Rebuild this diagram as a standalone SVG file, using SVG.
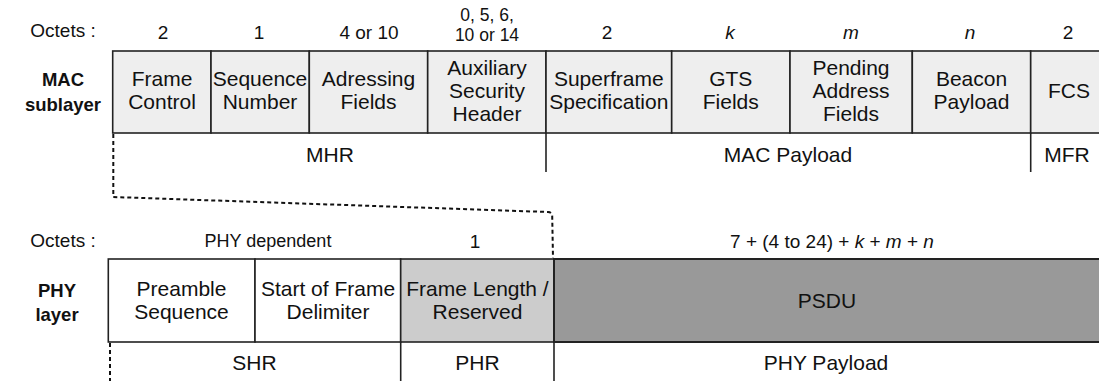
<svg xmlns="http://www.w3.org/2000/svg" width="1099" height="381" viewBox="0 0 1099 381">
<style>
text{font-family:"Liberation Sans",Arial,sans-serif;fill:#111;text-anchor:middle}
.lbl{font-size:19px}
.sm{font-size:17.5px}
.ph{font-size:18px}
.box{font-size:21px}
.bold{font-size:18.5px;font-weight:bold}
.mac{fill:#eeeeee;stroke:#222;stroke-width:1.6}
.phy{fill:#ffffff;stroke:#222;stroke-width:1.6}
.phr{fill:#cccccc;stroke:#222;stroke-width:1.6}
.psdu{fill:#999999;stroke:#222;stroke-width:2}
.sep{stroke:#222;stroke-width:1.6;fill:none}
.dash{stroke:#111;stroke-width:2;fill:none;stroke-dasharray:4 3}
</style>
<g id="mac-labels">
<text class="lbl" x="63" y="37">Octets :</text>
<text class="lbl" x="163" y="39">2</text>
<text class="lbl" x="259" y="39">1</text>
<text class="lbl" x="369" y="39">4 or 10</text>
<text class="sm" x="487" y="21">0, 5, 6,</text>
<text class="sm" x="487" y="41">10 or 14</text>
<text class="lbl" x="607" y="39">2</text>
<text class="lbl" x="730" y="39" font-style="italic">k</text>
<text class="lbl" x="851" y="39" font-style="italic">m</text>
<text class="lbl" x="970" y="39" font-style="italic">n</text>
<text class="lbl" x="1068" y="39">2</text>
<text class="bold" x="63" y="86">MAC</text>
<text class="bold" x="63" y="111">sublayer</text>
</g>
<g id="frame-control"><rect class="mac" x="112.7" y="51" width="98.3" height="82"/><text class="box" x="162" y="86">Frame</text><text class="box" x="162" y="109">Control</text></g>
<g id="sequence-number"><rect class="mac" x="211" y="51" width="98.3" height="82"/><text class="box" x="260" y="86">Sequence</text><text class="box" x="260" y="109">Number</text></g>
<g id="addressing-fields"><rect class="mac" x="309.3" y="51" width="118.4" height="82"/><text class="box" x="368.5" y="86">Adressing</text><text class="box" x="368.5" y="109">Fields</text></g>
<g id="aux-security-header"><rect class="mac" x="427.7" y="51" width="118.3" height="82"/><text class="box" x="487" y="75">Auxiliary</text><text class="box" x="487" y="98">Security</text><text class="box" x="487" y="121">Header</text></g>
<g id="superframe-spec"><rect class="mac" x="546" y="51" width="125.7" height="82"/><text class="box" x="608.8" y="86">Superframe</text><text class="box" x="608.8" y="109">Specification</text></g>
<g id="gts-fields"><rect class="mac" x="671.7" y="51" width="118.3" height="82"/><text class="box" x="730.8" y="86">GTS</text><text class="box" x="730.8" y="109">Fields</text></g>
<g id="pending-address-fields"><rect class="mac" x="790" y="51" width="122.3" height="82"/><text class="box" x="851" y="75">Pending</text><text class="box" x="851" y="98">Address</text><text class="box" x="851" y="121">Fields</text></g>
<g id="beacon-payload"><rect class="mac" x="912.3" y="51" width="118.4" height="82"/><text class="box" x="971.5" y="86">Beacon</text><text class="box" x="971.5" y="109">Payload</text></g>
<g id="fcs"><rect class="mac" x="1030.7" y="51" width="80" height="82"/><text class="box" x="1069" y="98">FCS</text></g>
<g id="mac-groups">
<text class="box" x="330" y="162">MHR</text>
<text class="box" x="788" y="162">MAC Payload</text>
<text class="box" x="1067" y="162">MFR</text>
</g>
<g id="phy-labels">
<text class="lbl" x="63" y="247">Octets :</text>
<text class="ph" x="268" y="247">PHY dependent</text>
<text class="lbl" x="475" y="248">1</text>
<text class="lbl" x="832" y="248">7 + (4 to 24) + <tspan font-style="italic">k</tspan> + <tspan font-style="italic">m</tspan> + <tspan font-style="italic">n</tspan></text>
<text class="bold" x="57" y="297">PHY</text>
<text class="bold" x="57" y="321">layer</text>
</g>
<g id="preamble-sequence"><rect class="phy" x="108.3" y="259" width="146.7" height="83"/><text class="box" x="181.5" y="296">Preamble</text><text class="box" x="181.5" y="319">Sequence</text></g>
<g id="start-frame-delimiter"><rect class="phy" x="255" y="259" width="145.7" height="83"/><text class="box" x="328" y="296">Start of Frame</text><text class="box" x="328" y="319">Delimiter</text></g>
<g id="frame-length"><rect class="phr" x="400.7" y="259" width="153.3" height="83"/><text class="box" x="477.5" y="296">Frame Length /</text><text class="box" x="477.5" y="319">Reserved</text></g>
<g id="psdu"><rect class="psdu" x="554" y="259" width="560" height="83"/><text class="box" x="827" y="308">PSDU</text></g>
<g id="phy-groups">
<text class="box" x="254.5" y="370">SHR</text>
<text class="box" x="477.5" y="370">PHR</text>
<text class="box" x="826" y="370">PHY Payload</text>
</g>
<g id="connectors">
<line class="sep" x1="546" y1="133" x2="546" y2="172"/>
<line class="sep" x1="1030.7" y1="133" x2="1030.7" y2="172"/>
<line class="sep" x1="400.7" y1="342" x2="400.7" y2="381"/>
<line class="sep" x1="554" y1="342" x2="554" y2="381"/>
<path class="dash" d="M113.3,134 V197 L548,212 Q552,212.2 552.2,216 L553,258"/>
<line class="dash" x1="110" y1="343" x2="110" y2="381"/>
</g>
</svg>
